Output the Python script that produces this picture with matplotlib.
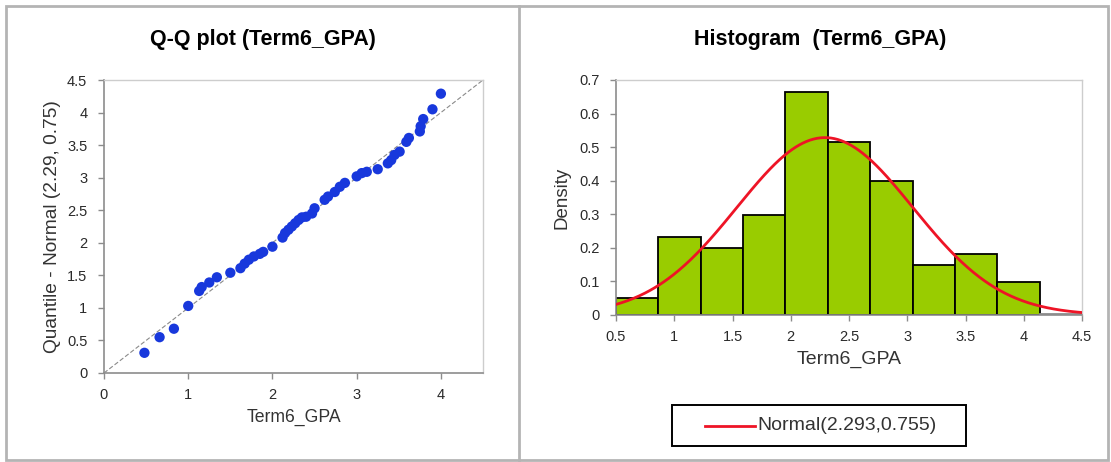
import numpy as np
import matplotlib

matplotlib.use("Agg")
import matplotlib.pyplot as plt
from matplotlib.lines import Line2D
from matplotlib.patches import Rectangle

plt.rcParams["font.family"] = ["Liberation Sans", "DejaVu Sans"]

# Q-Q points: observed Term6_GPA vs. Normal(2.29, 0.75) quantiles
qq_obs = [0.48, 0.66, 0.83, 1.00, 1.13, 1.16, 1.25, 1.34, 1.50, 1.62, 1.67, 1.72,
          1.78, 1.85, 1.89, 2.00, 2.12, 2.15, 2.19, 2.23, 2.27, 2.31, 2.35, 2.40,
          2.47, 2.50, 2.62, 2.66, 2.74, 2.80, 2.86, 3.00, 3.06, 3.12, 3.25, 3.37,
          3.41, 3.45, 3.51, 3.59, 3.62, 3.75, 3.76, 3.79, 3.90, 4.00]
qq_theo = [0.31, 0.55, 0.68, 1.03, 1.26, 1.32, 1.39, 1.47, 1.54, 1.61, 1.68, 1.74,
           1.79, 1.83, 1.86, 1.94, 2.08, 2.15, 2.20, 2.25, 2.30, 2.35, 2.39, 2.40,
           2.45, 2.53, 2.66, 2.71, 2.78, 2.86, 2.92, 3.02, 3.07, 3.09, 3.13, 3.22,
           3.27, 3.35, 3.40, 3.55, 3.61, 3.71, 3.79, 3.90, 4.05, 4.29]

# histogram: 11 equal bins over [0.5, 4.5]
bin_edges = np.linspace(0.5, 4.5, 12)
densities = [0.050, 0.233, 0.200, 0.299, 0.663, 0.515, 0.398, 0.150, 0.183, 0.099, 0.004]
norm_mu, norm_sd = 2.293, 0.755

W, H = 1111, 462
fig = plt.figure(figsize=(W / 100, H / 100), dpi=100)
fig.patch.set_facecolor("white")

FRAME = "#b4b4b4"
AXIS = "#8c8c8c"
LIGHT = "#cdcdcd"
TXT = "#2a2a2a"
LABEL = "#333333"


def fx(px):
    return px / W


def fy(py):
    return 1 - py / H


# panel frames
fig.add_artist(Rectangle((fx(6), fy(460)), fx(1108 - 6), (460 - 6) / H,
                         fill=False, edgecolor=FRAME, linewidth=2, transform=fig.transFigure))
fig.add_artist(Line2D([fx(519), fx(519)], [fy(460), fy(6)], color=FRAME, linewidth=2,
                      transform=fig.transFigure))


def style_axes(ax):
    for s in ("left", "bottom"):
        ax.spines[s].set_color(AXIS)
        ax.spines[s].set_linewidth(1.2)
    for s in ("top", "right"):
        ax.spines[s].set_color(LIGHT)
        ax.spines[s].set_linewidth(1.0)
    ax.tick_params(direction="out", length=4, width=1, color=AXIS,
                   labelsize=10.5, labelcolor=TXT)
    ax.tick_params(axis="x", pad=7)
    ax.tick_params(axis="y", pad=8)


# ---- Q-Q plot ----
ax1 = fig.add_axes([fx(104), fy(373), fx(483 - 104), (373 - 80) / H])
ax1.plot([0, 4.5], [0, 4.5], color="#8a8a8a", linewidth=0.8, dashes=(4, 2), zorder=1)
ax1.scatter(qq_obs, qq_theo, s=55, color="#1838dc", edgecolors="none", zorder=3)
ax1.set_xlim(0, 4.5)
ax1.set_ylim(0, 4.5)
ax1.set_xticks([0, 1, 2, 3, 4])
ax1.set_yticks(np.arange(0, 4.6, 0.5))
ax1.set_yticklabels(["0", "0.5", "1", "1.5", "2", "2.5", "3", "3.5", "4", "4.5"])
style_axes(ax1)
ax1.set_xlabel("Term6_GPA", fontsize=12.7, color=LABEL, labelpad=5)
ax1.set_ylabel("Quantile - Normal (2.29, 0.75)", fontsize=13.8, color=LABEL, labelpad=4)
fig.text(fx(263), fy(39), "Q-Q plot (Term6_GPA)", ha="center", va="center",
         fontsize=15.5, fontweight="bold", color="black")

# ---- Histogram ----
ax2 = fig.add_axes([fx(616), fy(315), fx(1082 - 616), (315 - 80) / H])
widths = np.diff(bin_edges)
edge_cols = ["black"] * (len(densities) - 1) + ["#8c8c8c"]
ax2.bar(bin_edges[:-1], densities, width=widths, align="edge", color="#99cc00",
        edgecolor=edge_cols, linewidth=1.3, zorder=2)
xs = np.linspace(0.5, 4.5, 400)
pdf = np.exp(-0.5 * ((xs - norm_mu) / norm_sd) ** 2) / (norm_sd * np.sqrt(2 * np.pi))
ax2.plot(xs, pdf, color="#ee1426", linewidth=2, zorder=3)
ax2.set_xlim(0.5, 4.5)
ax2.set_ylim(0, 0.7)
ax2.set_xticks(np.arange(0.5, 4.6, 0.5))
ax2.set_xticklabels(["0.5", "1", "1.5", "2", "2.5", "3", "3.5", "4", "4.5"])
ax2.set_yticks(np.arange(0, 0.71, 0.1))
ax2.set_yticklabels(["0", "0.1", "0.2", "0.3", "0.4", "0.5", "0.6", "0.7"])
style_axes(ax2)
ax2.set_xlabel("Term6_GPA", fontsize=14, color=LABEL, labelpad=5)
ax2.set_ylabel("Density", fontsize=13.5, color=LABEL, labelpad=6)
fig.text(fx(820), fy(39), "Histogram  (Term6_GPA)", ha="center", va="center",
         fontsize=15.5, fontweight="bold", color="black")

# legend box below the histogram
fig.add_artist(Rectangle((fx(672), fy(446)), fx(966 - 672), (446 - 405) / H,
                         fill=True, facecolor="white", edgecolor="black",
                         linewidth=1.4, transform=fig.transFigure))
fig.add_artist(Line2D([fx(705), fx(755)], [fy(425.5), fy(425.5)], color="#ee1426",
                      linewidth=2, transform=fig.transFigure))
fig.text(fx(757), fy(425.5), f"Normal({norm_mu:.3f},{norm_sd:.3f})", ha="left",
         va="center", fontsize=14, color=LABEL)

fig.savefig("out.png", dpi=100, facecolor="white")
